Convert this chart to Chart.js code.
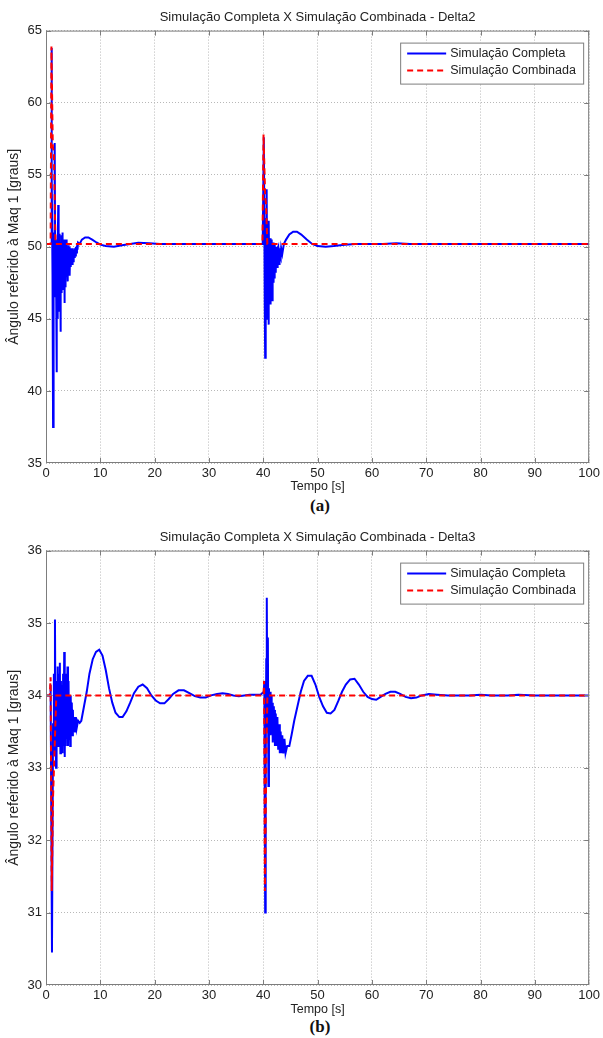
<!DOCTYPE html>
<html>
<head>
<meta charset="utf-8">
<script src="https://cdn.jsdelivr.net/npm/chart.js@4.4.1/dist/chart.umd.min.js"></script>
<style>
  body { margin: 0; background: #fff; }
  #wrap { position: relative; width: 603px; height: 1038px; }
  canvas { position: absolute; left: 0; }
  .cap { position: absolute; left: 0; width: 640px; text-align: center; font: bold 17px "Liberation Serif", "Times New Roman", serif; color: #111; line-height: 20px; }
</style>
</head>
<body>
<div id="wrap">
  <canvas id="chartA" width="603" height="494" style="top:0"></canvas>
  <div class="cap" style="top:496px">(a)</div>
  <canvas id="chartB" width="603" height="497" style="top:520px"></canvas>
  <div class="cap" style="top:1017px">(b)</div>
</div>
<script>
// legend labels
var seriesNames = ['Simulação Completa', 'Simulação Combinada'];
var titleA = 'Simulação Completa X Simulação Combinada - Delta2';
var titleB = 'Simulação Completa X Simulação Combinada - Delta3';
var xLabel = 'Tempo [s]';
var yLabel = 'Ângulo referido à Maq 1 [graus]';

// (a) Delta2 - Simulação Completa (time [s], angle [graus])
var tA_comp = [0, 0.95, 1.0, 1.1, 1.2, 1.3, 1.35, 1.4, 1.45, 1.5, 1.6, 1.7, 1.75, 1.8, 1.85, 1.95, 2.0, 2.05, 2.1, 2.15,
  2.2, 2.25, 2.3, 2.35, 2.4, 2.45, 2.5, 2.55, 2.6, 2.65, 2.7, 2.75, 2.8, 2.85, 2.9, 2.95, 3.0, 3.05, 3.1, 3.15,
  3.2, 3.25, 3.3, 3.35, 3.4, 3.45, 3.5, 3.55, 3.6, 3.65, 3.7, 3.75, 3.8, 3.85, 3.9, 3.95, 4.0, 4.05, 4.1, 4.15,
  4.2, 4.25, 4.3, 4.35, 4.4, 4.45, 4.5, 4.55, 4.6, 4.65, 4.7, 4.75, 4.8, 4.85, 4.9, 4.95, 5.0, 5.1, 5.2, 5.3,
  5.4, 5.5, 5.6, 5.7, 5.8, 5.9, 6.2, 6.6, 7.2, 7.8, 8.5, 9.3, 10.0, 11.0, 12.5, 14.0, 15.5, 17.0, 19.0, 21.0,
  39.9, 40.1, 40.2, 40.25, 40.3, 40.35, 40.4, 40.45, 40.5, 40.55, 40.6, 40.65, 40.7, 40.75, 40.8, 40.85, 40.9, 40.95, 41.0, 41.05,
  41.1, 41.15, 41.2, 41.25, 41.3, 41.35, 41.4, 41.45, 41.5, 41.55, 41.6, 41.65, 41.7, 41.75, 41.8, 41.85, 41.9, 41.95, 42.0, 42.05,
  42.1, 42.15, 42.2, 42.3, 42.35, 42.45, 42.5, 42.6, 42.65, 42.75, 42.8, 42.9, 42.95, 43.05, 43.1, 43.2, 43.3, 43.4, 43.5, 43.6,
  43.8, 44.2, 44.8, 45.5, 46.2, 47.0, 48.0, 49.0, 50.0, 51.5, 53.0, 55.0, 57.0, 62.0, 64.5, 67.0, 100];
var vA_comp = [50.2, 50.2, 63.8, 55.0, 48.0, 37.5, 49.5, 48.5, 51.0, 47.0, 57.2, 48.0, 46.5, 50.5, 48.2, 41.3, 50.0, 48.5, 50.8, 45.0,
  49.5, 52.9, 48.0, 47.2, 50.9, 48.5, 50.5, 45.5, 49.8, 48.2, 44.1, 50.3, 48.4, 50.8, 46.8, 50.2, 48.0, 51.0, 47.5, 50.5,
  48.3, 50.2, 47.0, 50.4, 46.1, 50.0, 48.5, 50.5, 47.2, 50.3, 48.6, 50.5, 48.0, 50.0, 48.8, 49.9, 47.6, 50.0, 48.7, 50.1,
  48.2, 49.9, 48.9, 50.0, 48.0, 49.8, 49.0, 49.9, 48.6, 49.8, 49.1, 49.9, 48.8, 49.8, 49.2, 49.9, 49.0, 49.8, 49.3, 49.9,
  49.4, 50.0, 49.6, 50.1, 49.8, 50.3, 50.2, 50.5, 50.65, 50.65, 50.5, 50.3, 50.15, 50.05, 50.0, 50.1, 50.2, 50.28, 50.25, 50.2,
  50.2, 57.6, 52.0, 49.0, 46.0, 42.3, 49.5, 50.0, 47.5, 45.0, 50.5, 54.0, 49.0, 46.5, 50.2, 51.0, 47.8, 44.6, 50.0, 51.8,
  48.5, 47.0, 50.3, 50.6, 48.3, 46.0, 50.0, 50.5, 48.6, 47.0, 49.8, 46.3, 49.5, 50.3, 48.5, 47.5, 49.9, 50.3, 48.8, 47.8,
  49.8, 50.2, 49.0, 48.2, 49.9, 50.0, 49.0, 48.6, 49.9, 50.0, 49.2, 48.8, 49.9, 49.9, 49.3, 49.2, 49.9, 49.9, 49.5, 49.5,
  50.2, 50.5, 50.85, 51.05, 51.05, 50.85, 50.5, 50.2, 50.05, 50.0, 50.05, 50.15, 50.2, 50.2, 50.25, 50.2, 50.2];

// (a) Delta2 - Simulação Combinada
var tA_comb = [0, 0.85, 1.0, 1.25, 1.45, 1.75, 39.85, 40.05, 40.35, 40.5, 40.75, 100];
var vA_comb = [50.2, 50.2, 63.9, 57.0, 56.5, 50.2, 50.2, 57.8, 53.5, 53.0, 50.2, 50.2];

// (b) Delta3 - Simulação Completa
var tB_comp = [0, 0.75, 0.85, 1.1, 1.3, 1.45, 1.55, 1.65, 1.75, 1.85, 1.95, 2.05, 2.15, 2.25, 2.35, 2.45, 2.55, 2.65, 2.75, 2.85,
  2.95, 3.05, 3.15, 3.25, 3.35, 3.45, 3.55, 3.65, 3.75, 3.85, 3.95, 4.05, 4.15, 4.25, 4.35, 4.45, 4.55, 4.65, 4.75, 4.85,
  4.95, 5.05, 5.2, 5.35, 5.5, 5.65, 5.9, 6.2, 6.5, 7.0, 7.5, 8.0, 8.6, 9.2, 9.8, 10.4, 11.0, 11.6, 12.2, 12.8,
  13.5, 14.1, 14.8, 15.5, 16.2, 17.0, 17.8, 18.6, 19.4, 20.2, 21.0, 21.8, 22.6, 23.4, 24.4, 25.4, 26.4, 27.4, 28.4, 29.4,
  30.4, 31.5, 32.5, 33.5, 34.5, 35.5, 36.5, 37.5, 38.5, 39.5, 40.1, 40.2, 40.35, 40.45, 40.55, 40.65, 40.75, 40.85, 40.95, 41.05,
  41.15, 41.25, 41.35, 41.45, 41.55, 41.65, 41.75, 41.85, 41.95, 42.05, 42.15, 42.3, 42.45, 42.6, 42.75, 42.9, 43.05, 43.2, 43.35, 43.5,
  43.7, 43.9, 44.1, 44.4, 44.8, 45.2, 45.7, 46.3, 46.9, 47.5, 48.2, 48.9, 49.6, 50.3, 51.0, 51.7, 52.4, 53.1, 53.8, 54.5,
  55.2, 56.0, 56.8, 57.6, 58.4, 59.2, 60.0, 60.8, 61.6, 62.5, 63.4, 64.3, 65.2, 66.2, 67.2, 68.2, 69.2, 70.5, 72.0, 74.0,
  76.0, 78.0, 80.0, 82.0, 85.0, 87.0, 90.0, 100];
var vB_comp = [34.0, 34.0, 34.15, 30.45, 33.6, 34.3, 33.2, 35.05, 33.5, 33.0, 34.2, 33.4, 34.4, 33.3, 34.3, 33.6, 34.45, 33.2, 34.2, 33.4,
  34.0, 33.2, 34.3, 33.3, 34.6, 33.15, 34.2, 33.3, 34.3, 33.4, 34.4, 33.3, 34.2, 33.4, 34.0, 33.3, 34.0, 33.5, 33.9, 33.45,
  33.8, 33.5, 33.7, 33.5, 33.7, 33.55, 33.65, 33.62, 33.65, 33.85, 34.05, 34.3, 34.5, 34.6, 34.63, 34.55, 34.35, 34.1, 33.9, 33.76,
  33.7, 33.7, 33.78, 33.9, 34.03, 34.12, 34.15, 34.1, 34.0, 33.93, 33.89, 33.89, 33.95, 34.02, 34.07, 34.07, 34.03, 33.99, 33.97, 33.97,
  34.0, 34.02, 34.03, 34.02, 34.0, 33.99, 34.0, 34.01, 34.01, 34.01, 34.05, 34.2, 31.0, 33.0, 34.5, 35.35, 33.5, 34.8, 32.75, 34.1,
  33.5, 34.05, 33.45, 34.0, 33.5, 33.9, 33.35, 33.85, 33.4, 33.8, 33.3, 33.75, 33.3, 33.7, 33.25, 33.6, 33.2, 33.5, 33.2, 33.45,
  33.2, 33.4, 33.2, 33.3, 33.3, 33.45, 33.65, 33.85, 34.05, 34.2, 34.27, 34.27, 34.15, 33.98, 33.85, 33.76, 33.75, 33.8, 33.92, 34.05,
  34.15, 34.22, 34.23, 34.15, 34.05, 33.98, 33.95, 33.94, 33.98, 34.02, 34.05, 34.05, 34.02, 33.98, 33.96, 33.97, 34.0, 34.02, 34.01, 34.0,
  34.0, 34.0, 34.01, 34.0, 34.0, 34.01, 34.0, 34.0];

// (b) Delta3 - Simulação Combinada
var tB_comb = [0, 0.7, 0.85, 1.05, 1.3, 1.9, 40.05, 40.15, 40.3, 40.55, 40.75, 100];
var vB_comb = [34.0, 34.0, 34.25, 31.3, 32.6, 34.0, 34.0, 34.2, 31.3, 33.0, 34.0, 34.0];

// axis ranges
var xTicks = { min: 0, max: 100, step: 10 };
var yTicksA = { min: 35, max: 65, step: 5 };
var yTicksB = { min: 30, max: 36, step: 1 };

function toPoints(ts, vs) {
  return ts.map(function(t, i) { return { x: t, y: vs[i] }; });
}

Chart.defaults.font.family = 'Arial, "Liberation Sans", sans-serif';
Chart.defaults.color = '#222';

// box round the plot, with short inward ticks like matlab
var frame = {
  id: 'frame',
  afterDatasetsDraw: function(chart) {
    var a = chart.chartArea, c = chart.ctx;
    var sx = chart.scales.x, sy = chart.scales.y;
    c.save();
    c.strokeStyle = '#7d7d7d';
    c.lineWidth = 1;
    c.strokeRect(a.left + 0.5, a.top + 0.5, a.right - a.left - 1, a.bottom - a.top - 1);
    c.beginPath();
    sx.ticks.forEach(function(t) {
      var px = Math.min(Math.round(sx.getPixelForValue(t.value)) + 0.5, a.right - 0.5);
      c.moveTo(px, a.bottom); c.lineTo(px, a.bottom - 5);
      c.moveTo(px, a.top); c.lineTo(px, a.top + 5);
    });
    sy.ticks.forEach(function(t) {
      var py = Math.min(Math.round(sy.getPixelForValue(t.value)) + 0.5, a.bottom - 0.5);
      c.moveTo(a.left, py); c.lineTo(a.left + 5, py);
      c.moveTo(a.right, py); c.lineTo(a.right - 5, py);
    });
    c.stroke();
    c.restore();
  }
};

// legend box in the top right corner of the plot
var boxLegend = {
  id: 'boxLegend',
  afterDraw: function(chart) {
    var a = chart.chartArea, c = chart.ctx;
    var w = 183, h = 41;
    var x0 = a.right - 6 - w, y0 = a.top + 12;
    c.save();
    c.fillStyle = '#fff';
    c.fillRect(x0, y0, w, h);
    c.strokeStyle = '#7d7d7d';
    c.lineWidth = 1;
    c.strokeRect(x0 + 0.5, y0 + 0.5, w, h);
    c.font = '12.5px Arial, "Liberation Sans", sans-serif';
    c.textBaseline = 'middle';
    chart.data.datasets.forEach(function(ds, i) {
      var yy = y0 + 11 + i * 17;
      c.strokeStyle = ds.borderColor;
      c.lineWidth = 2;
      c.setLineDash(ds.borderDash || []);
      c.beginPath();
      c.moveTo(x0 + 7, yy); c.lineTo(x0 + 46, yy);
      c.stroke();
      c.setLineDash([]);
      c.fillStyle = '#222';
      c.fillText(ds.label, x0 + 50, yy);
    });
    c.restore();
  }
};

function makeChart(id, title, yr, comp, comb, xh) {
  var ctx = document.getElementById(id).getContext('2d');
  return new Chart(ctx, {
    type: 'line',
    data: {
      datasets: [
        {
          label: seriesNames[0],
          data: comp,
          borderColor: '#0000ff',
          borderWidth: 2,
          pointRadius: 0,
          tension: 0,
          order: 1
        },
        {
          label: seriesNames[1],
          data: comb,
          borderColor: '#ff0000',
          borderWidth: 2,
          borderDash: [6, 4],
          pointRadius: 0,
          tension: 0,
          order: 0
        }
      ]
    },
    options: {
      responsive: false,
      animation: false,
      devicePixelRatio: 1,
      layout: { padding: { left: 0, right: 10, top: 0, bottom: 0 }, autoPadding: false },
      plugins: {
        legend: { display: false },
        tooltip: { enabled: false },
        title: {
          display: true,
          fullSize: false,
          text: title,
          font: { size: 13, weight: 'normal' },
          color: '#222',
          padding: { top: 10, bottom: 5 }
        }
      },
      scales: {
        x: {
          type: 'linear',
          min: xTicks.min, max: xTicks.max,
          ticks: { stepSize: xTicks.step, padding: 3, font: { size: 13 }, maxRotation: 0 },
          grid: { color: '#b8b8b8', drawTicks: false },
          border: { display: false, dash: [1, 2] },
          title: { display: true, text: xLabel, font: { size: 12.5 }, padding: 0 },
          afterFit: function(s) { s.height = xh; }
        },
        y: {
          min: yr.min, max: yr.max,
          ticks: { stepSize: yr.step, padding: 4, font: { size: 13 } },
          grid: { color: '#b8b8b8', drawTicks: false },
          border: { display: false, dash: [1, 2] },
          title: { display: true, text: yLabel, font: { size: 14 }, padding: { top: 6, bottom: 0 } },
          afterFit: function(s) { s.width = 46; }
        }
      }
    },
    plugins: [frame, boxLegend]
  });
}

makeChart('chartA', titleA, yTicksA, toPoints(tA_comp, vA_comp), toPoints(tA_comb, vA_comb), 31);
makeChart('chartB', titleB, yTicksB, toPoints(tB_comp, vB_comp), toPoints(tB_comb, vB_comb), 32);
</script>
</body>
</html>
